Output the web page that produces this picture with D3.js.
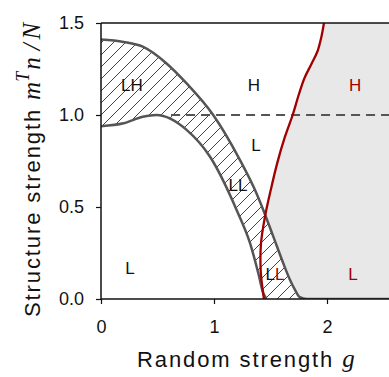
<!DOCTYPE html>
<html><head><meta charset="utf-8">
<script src="https://cdn.jsdelivr.net/npm/d3@7"></script>
<style>body{margin:0;background:#fff}svg{display:block}</style>
</head><body>
<svg id="c" width="389" height="377"></svg>
<script>
// Data
const outerCurve = [[0,1.41],[0.2,1.397],[0.37,1.371],[0.58,1.28],[0.76,1.17],[0.993,1.0],[1.23,0.755],[1.363,0.592],[1.436,0.484],[1.525,0.339],[1.613,0.194],[1.673,0.103],[1.717,0.049],[1.76,0.01],[1.82,0],[2.7,0]];
const innerCurve = [[0,0.939],[0.2,0.955],[0.37,0.99],[0.49,1.0],[0.76,0.918],[0.965,0.773],[1.2,0.484],[1.319,0.303],[1.392,0.14],[1.436,0.031],[1.466,0]];
const redLine = [[1.442,0],[1.431,0.049],[1.413,0.158],[1.416,0.303],[1.451,0.447],[1.502,0.592],[1.56,0.74],[1.628,0.882],[1.696,1.0],[1.75,1.11],[1.80,1.2],[1.86,1.275],[1.915,1.345],[1.952,1.43],[1.973,1.5]];
const dashedY = 1.0, dashedStart = 0.62;
const xTicks = [0,1,2];
const yTicks = [0,0.5,1.0,1.5];
const labels = [
  {t:"LH", x:0.274, y:1.163, c:"#111"},
  {t:"H", x:1.354, y:1.163, c:"#111"},
  {t:"H", x:2.248, y:1.163, c:"#a00000"},
  {t:"L", x:1.372, y:0.837, c:"#111"},
  {t:"LL", x:1.212, y:0.62, c:"#111"},
  {t:"L", x:0.257, y:0.168, c:"#111"},
  {t:"L", x:2.23, y:0.136, c:"#a00000"}
];

const svg = d3.select("#c");
const x = d3.scaleLinear().domain([0, 2.6]).range([101, 101 + 2.6*113]);
const y = d3.scaleLinear().domain([0, 1.5]).range([299, 23]);

const defs = svg.append("defs");
const pat = defs.append("pattern").attr("id","hatch").attr("patternUnits","userSpaceOnUse")
  .attr("width",12).attr("height",12);
pat.append("path").attr("d","M-3,3 L3,-3 M0,12 L12,0 M9,15 L15,9").attr("stroke","#111").attr("stroke-width",0.8);
defs.append("clipPath").attr("id","clip").append("rect")
  .attr("x",x(0)).attr("y",y(1.5)).attr("width",x(2.6)-x(0)).attr("height",y(0)-y(1.5));

const g = svg.append("g").attr("clip-path","url(#clip)");
const lineX = d3.line().x(d=>x(d[0])).y(d=>y(d[1])).curve(d3.curveMonotoneX);
const lineR = d3.line().x(d=>x(d[0])).y(d=>y(d[1])).curve(d3.curveCatmullRom.alpha(0.5));
const areaX = d3.area().x(d=>x(d[0])).y0(y(0)).y1(d=>y(d[1])).curve(d3.curveMonotoneX);

// gray region right of red line
const redPath = lineR(redLine);
g.append("path").attr("d", redPath + "L" + x(2.7) + "," + y(1.5) + "L" + x(2.7) + "," + y(0) + "Z")
  .attr("fill","#e8e8e8").attr("stroke","none");

// hatched region: area under outer curve minus area under inner curve
const outerMain = outerCurve.filter(d=>d[0]<=1.82);
g.append("path").attr("d", areaX(outerMain)).attr("fill","#fff");
g.append("path").attr("d", areaX(outerMain)).attr("fill","url(#hatch)");
g.append("path").attr("d", areaX(innerCurve)).attr("fill","#fff");

// dashed line
g.append("line").attr("x1",x(dashedStart)).attr("x2",x(2.7)).attr("y1",y(dashedY)).attr("y2",y(dashedY))
  .attr("stroke","#555").attr("stroke-width",2).attr("stroke-dasharray","9,6");

// curves
g.append("path").attr("d",lineX(outerCurve)).attr("fill","none").attr("stroke","#555").attr("stroke-width",2.5);
g.append("path").attr("d",lineX(innerCurve)).attr("fill","none").attr("stroke","#555").attr("stroke-width",2.5);
g.append("path").attr("d",redPath).attr("fill","none").attr("stroke","#a00000").attr("stroke-width",2.3);

// labels
const lab = svg.append("g").attr("font-family","Liberation Sans, Arial, sans-serif").attr("font-size",17).attr("text-anchor","middle");
labels.forEach(l=>{
  lab.append("text").attr("x",x(l.x)).attr("y",y(l.y)).attr("dy","0.36em").attr("fill",l.c).text(l.t);
});
const ll = lab.append("text").attr("x",x(1.54)).attr("y",y(0.136)).attr("dy","0.36em");
ll.append("tspan").attr("fill","#111").text("L");
ll.append("tspan").attr("fill","#a00000").text("L");

// axes
const xAxis = svg.append("g").attr("transform",`translate(0,${y(0)})`)
  .call(d3.axisBottom(x).tickValues(xTicks).tickFormat(d3.format("d")).tickSize(5).tickPadding(16));
const yAxis = svg.append("g").attr("transform",`translate(${x(0)},0)`)
  .call(d3.axisLeft(y).tickValues(yTicks).tickFormat(d3.format(".1f")).tickSize(5).tickPadding(12));
[xAxis,yAxis].forEach(a=>{
  a.selectAll("text").attr("font-family","Liberation Sans, Arial, sans-serif").attr("font-size",18).attr("fill","#111");
  a.selectAll("line").attr("stroke","#111").attr("stroke-width",1.2);
  a.select(".domain").attr("stroke","#111").attr("stroke-width",1.5);
});
xAxis.select(".domain").attr("d",`M${x(0)},0H${x(2.7)}`);
yAxis.select(".domain").attr("d",`M0,${y(0)}V${y(1.5)}`);
svg.append("line").attr("x1",x(0)).attr("x2",389).attr("y1",y(1.5)).attr("y2",y(1.5)).attr("stroke","#111").attr("stroke-width",1.5);

// axis titles
const xt = svg.append("text").attr("x",137).attr("y",367).attr("text-anchor","start")
  .attr("font-family","Liberation Sans, Arial, sans-serif").attr("font-size",22).attr("letter-spacing",1.9).attr("fill","#111");
xt.append("tspan").text("Random strength ");
xt.append("tspan").attr("font-family","Liberation Serif, serif").attr("font-style","italic").attr("font-size",25).attr("letter-spacing",0).text("g");

const yt = svg.append("text").attr("transform","translate(40,317) rotate(-90)").attr("text-anchor","start")
  .attr("font-family","Liberation Sans, Arial, sans-serif").attr("font-size",22).attr("letter-spacing",1.9).attr("fill","#111");
yt.append("tspan").text("Structure strength ");
const mf = "Liberation Serif, serif";
yt.append("tspan").attr("font-family",mf).attr("font-style","italic").attr("font-size",25).attr("letter-spacing",0).text("m");
yt.append("tspan").attr("font-family",mf).attr("font-style","italic").attr("font-size",18).attr("letter-spacing",0).attr("dy",-11).text("T");
yt.append("tspan").attr("font-family",mf).attr("font-style","italic").attr("font-size",25).attr("letter-spacing",0).attr("dy",11).attr("dx",2).text("n");
yt.append("tspan").attr("font-family",mf).attr("font-style","italic").attr("font-size",25).attr("letter-spacing",0).attr("dx",7).text("/");
yt.append("tspan").attr("font-family",mf).attr("font-style","italic").attr("font-size",25).attr("letter-spacing",0).attr("dx",4).text("N");
</script>
</body></html>
